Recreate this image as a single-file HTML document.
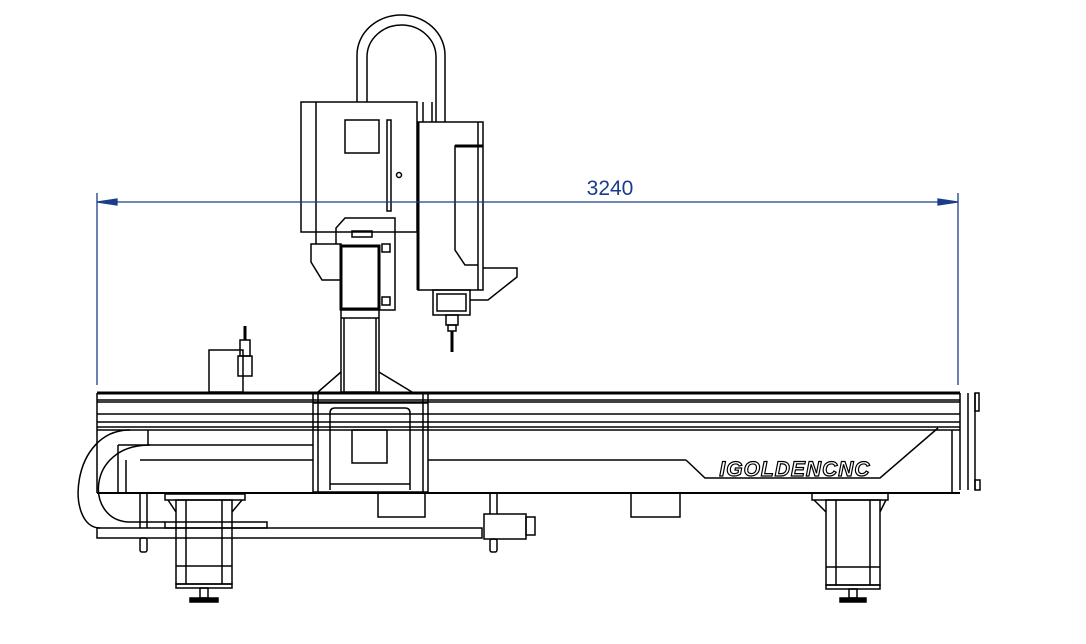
<!DOCTYPE html>
<html><head><meta charset="utf-8"><style>html,body{margin:0;padding:0;background:#fff}svg{display:block}</style></head>
<body>
<svg width="1086" height="644" viewBox="0 0 1086 644" xmlns="http://www.w3.org/2000/svg">
<g fill="none" stroke="#000" stroke-width="1.5">
<path d="M357,102 V55 A44,40 0 0 1 445,55 V122"/>
<path d="M367,102 V57 A34.5,32 0 0 1 436,57 V122"/>
<rect x="301" y="102" width="116" height="130"/>
<line x1="316" y1="102" x2="316" y2="244"/>
<line x1="423" y1="102" x2="423" y2="122"/>
<line x1="432" y1="102" x2="432" y2="122"/>
<rect x="345" y="120" width="34" height="33"/>
<rect x="387" y="120" width="4" height="91"/>
<circle cx="399" cy="175" r="2.5"/>
<rect x="418" y="122" width="65" height="168"/>
<line x1="478" y1="122" x2="478" y2="290"/>
<line x1="418" y1="122" x2="418" y2="290" stroke-width="3"/>
<path d="M483,146 H455 V250 L465,265 H478"/>
<line x1="455" y1="146" x2="483" y2="146" stroke-width="3"/>
<path d="M483,268 H517 V277 L488,300 H470"/>
<rect x="433" y="290" width="37" height="25"/>
<rect x="437" y="294" width="29" height="17"/>
<rect x="446" y="315" width="12" height="10"/>
<rect x="448" y="325" width="8" height="6"/>
<line x1="452" y1="331" x2="452" y2="352" stroke-width="3"/>
<path d="M336,244 V228 L345,218 H395 V310 H379"/>
<path d="M311,244 H341 V280 H322 L311,262 Z"/>
<rect x="341" y="246" width="38" height="63" stroke-width="3"/>
<rect x="352" y="231" width="20" height="6"/>
<rect x="382" y="244" width="8" height="8"/>
<rect x="382" y="297" width="8" height="8"/>
<rect x="341" y="310" width="38" height="82"/>
<line x1="341" y1="318" x2="379" y2="318"/>
<line x1="344" y1="318" x2="344" y2="392"/>
<line x1="376" y1="318" x2="376" y2="392"/>
<line x1="341" y1="372" x2="318" y2="392"/>
<line x1="379" y1="372" x2="412" y2="392"/>
<rect x="209" y="350" width="34" height="42"/>
<rect x="240" y="340" width="10" height="16"/>
<line x1="245" y1="326" x2="245" y2="340" stroke-width="3"/>
<rect x="238" y="356" width="14" height="20"/>
<line x1="97" y1="393" x2="960" y2="393" stroke-width="3"/>
<line x1="97" y1="400" x2="960" y2="400"/>
<line x1="97" y1="402" x2="960" y2="402"/>
<line x1="97" y1="414" x2="960" y2="414"/>
<line x1="97" y1="422" x2="960" y2="422"/>
<line x1="97" y1="427" x2="960" y2="427"/>
<line x1="97" y1="430" x2="960" y2="430"/>
<line x1="97" y1="393" x2="97" y2="493"/>
<line x1="97" y1="493" x2="960" y2="493" stroke-width="2"/>
<line x1="118" y1="445" x2="313" y2="445"/>
<line x1="140" y1="460" x2="313" y2="460"/>
<line x1="428" y1="460" x2="686" y2="460"/>
<line x1="148" y1="430" x2="148" y2="445"/>
<line x1="118" y1="445" x2="118" y2="493"/>
<line x1="126" y1="460" x2="126" y2="493"/>
<line x1="960" y1="393" x2="960" y2="490"/>
<line x1="968" y1="393" x2="968" y2="490"/>
<line x1="975" y1="393" x2="975" y2="490"/>
<rect x="975" y="393" width="4" height="18"/>
<rect x="975" y="480" width="5" height="10"/>
<line x1="952" y1="430" x2="952" y2="493"/>
<path d="M686,460 L705,478 H880 L938,428"/>
<rect x="313" y="393" width="115" height="99"/>
<line x1="318" y1="393" x2="318" y2="492"/>
<line x1="423" y1="393" x2="423" y2="492"/>
<line x1="313" y1="403" x2="428" y2="403"/>
<path d="M330,490 V413 Q330,408 335,408 H405 Q410,408 410,413 V490"/>
<rect x="352" y="430" width="35" height="33"/>
<line x1="330" y1="484" x2="410" y2="484"/>
<path d="M378,493 V517 H425 V493"/>
<path d="M631,493 V517 H680 V493"/>
<path d="M130,430 C70,430 65,528 100,528"/>
<path d="M150,445 C85,445 85,522 130,522 H165"/>
<rect x="97" y="528" width="385" height="10"/>
<rect x="165" y="522" width="102" height="6"/>
<rect x="484" y="514" width="42" height="25"/>
<rect x="526" y="517" width="9" height="18"/>
<path d="M140,493 V528 M147,493 V528"/>
<rect x="140" y="538" width="7" height="14" rx="2"/>
<path d="M490,493 V514 M497,493 V514"/>
<rect x="490" y="539" width="7" height="13" rx="2"/>
<rect x="165" y="494" width="80" height="6"/>
<path d="M168,500 L176,512 M242,500 L232,512"/>
<rect x="176" y="500" width="56" height="84"/>
<line x1="186" y1="500" x2="186" y2="584"/><line x1="222" y1="500" x2="222" y2="584"/>
<line x1="176" y1="566" x2="232" y2="566"/>
<rect x="176" y="584" width="56" height="4"/>
<rect x="200" y="588" width="8" height="10"/>
<rect x="190" y="598" width="28" height="4" fill="#000"/>
<rect x="812" y="493" width="76" height="7"/>
<path d="M814,500 L826,512 M886,500 L880,512"/>
<rect x="826" y="500" width="54" height="85"/>
<line x1="836" y1="500" x2="836" y2="585"/><line x1="870" y1="500" x2="870" y2="585"/>
<line x1="826" y1="567" x2="880" y2="567"/>
<rect x="826" y="585" width="54" height="4"/>
<rect x="849" y="589" width="8" height="9"/>
<rect x="840" y="598" width="26" height="4" fill="#000"/>
</g>
<g stroke="#1a3d8a" stroke-width="1.3" fill="#1a3d8a">
<line x1="97" y1="193" x2="97" y2="385"/>
<line x1="958" y1="193" x2="958" y2="385"/>
<line x1="100" y1="202" x2="955" y2="202"/>
<path d="M97,202 L117,199 L117,205 Z"/>
<path d="M958,202 L938,199 L938,205 Z"/>
</g>
<text x="610" y="195" font-family="Liberation Sans, sans-serif" font-size="21" fill="#1a3d8a" text-anchor="middle">3240</text>
<text x="795" y="476" font-family="Liberation Sans, sans-serif" font-size="21" font-weight="bold" font-style="italic" fill="#fff" stroke="#000" stroke-width="1.2" text-anchor="middle" letter-spacing="1">IGOLDENCNC</text>
</svg>
</body></html>
